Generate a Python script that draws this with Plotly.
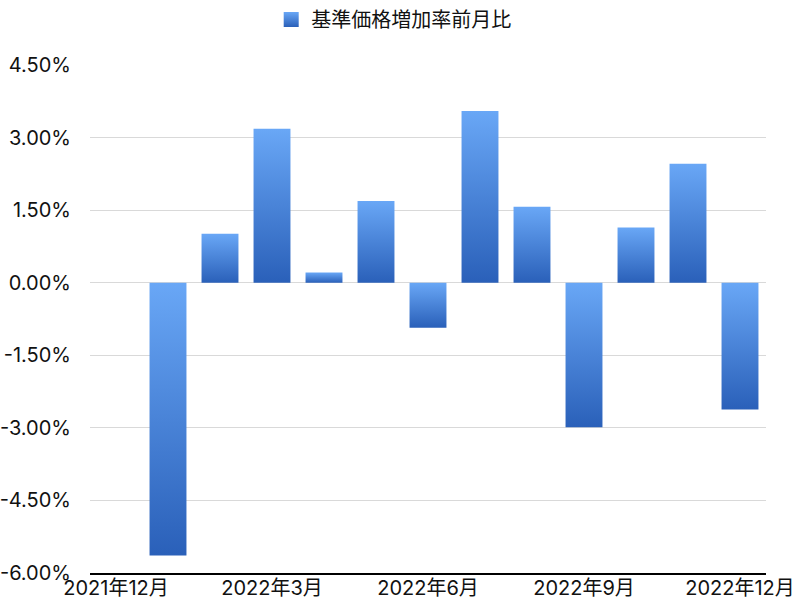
import plotly.graph_objects as go

months = ["2021年12月", "2022年1月", "2022年2月", "2022年3月", "2022年4月", "2022年5月",
          "2022年6月", "2022年7月", "2022年8月", "2022年9月", "2022年10月", "2022年11月", "2022年12月"]
values = [None, -5.64, 1.01, 3.18, 0.21, 1.69, -0.93, 3.55, 1.57, -2.99, 1.14, 2.46, -2.62]
tick_months = ["2021年12月", "2022年3月", "2022年6月", "2022年9月", "2022年12月"]
y_ticks = [-6.0, -4.5, -3.0, -1.5, 0.0, 1.5, 3.0, 4.5]
series_name = "基準価格増加率前月比"

FONT = "Inter, Noto Sans CJK JP, sans-serif"
LIGHT = "#69a7f6"
DARK = "#2a60b9"
HALF = 0.355

fig = go.Figure()
for i, (m, v) in enumerate(zip(months, values)):
    if v is None:
        continue
    xs = [i - HALF, i + HALF, i + HALF, i - HALF, i - HALF]
    ys = [0, 0, v, v, 0]
    fig.add_trace(go.Scatter(
        x=xs, y=ys, mode="lines", fill="toself",
        line=dict(width=0, color=LIGHT),
        fillgradient=dict(type="vertical", colorscale=[[0, DARK], [1, LIGHT]]),
        name=series_name, legendgroup="s", showlegend=False,
        hoveron="fills", text=f"{m}: {v:.2f}%", hoverinfo="text",
    ))

# legend swatch
fig.add_trace(go.Scatter(
    x=[None], y=[None], mode="markers", name=series_name, legendgroup="s",
    marker=dict(symbol="square", size=15, color=LIGHT,
                gradient=dict(type="vertical", color=DARK)),
    showlegend=True,
))

fig.update_layout(
    width=800, height=600,
    margin=dict(l=90, r=34, t=65, b=27, autoexpand=False),
    plot_bgcolor="white", paper_bgcolor="white",
    font=dict(family=FONT, size=20, color="#111111"),
    showlegend=True,
    legend=dict(orientation="h", xref="container", yref="container",
                x=0.339, xanchor="left", y=1.0, yanchor="top",
                font=dict(size=20), bgcolor="rgba(0,0,0,0)"),
    xaxis=dict(range=[-0.5, 12.5], tickmode="array",
               tickvals=[months.index(t) for t in tick_months], ticktext=tick_months,
               showgrid=False, zeroline=False, showline=True, linecolor="black", linewidth=2,
               ticks="", fixedrange=True, automargin=False, ticklabelstandoff=-4),
    yaxis=dict(range=[-6.0, 4.5], tickmode="array", tickvals=y_ticks,
               ticktext=[f"{t:.2f}%" for t in y_ticks],
               showgrid=True, gridcolor="#d9d9d9", gridwidth=1,
               zeroline=False, showline=False, ticks="", ticklabelstandoff=18,
               automargin=False, fixedrange=True),
)

fig.write_html("out.html", config={"displayModeBar": False},
               post_script="document.body.style.margin='0';")
